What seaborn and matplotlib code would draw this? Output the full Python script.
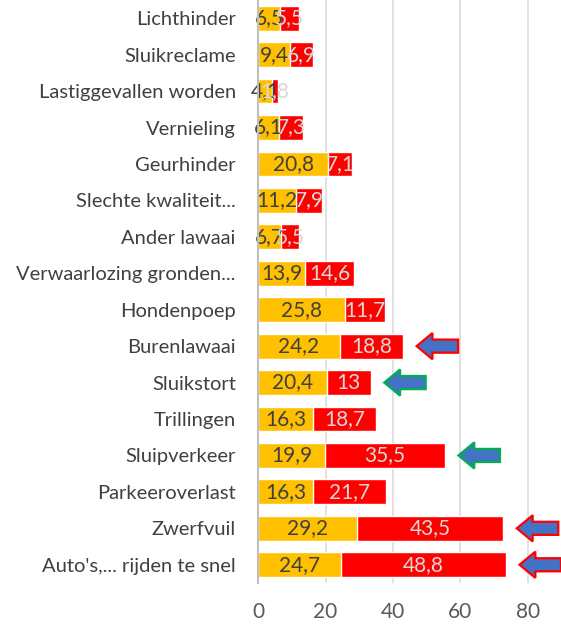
import matplotlib
matplotlib.use("Agg")
import matplotlib.pyplot as plt
import matplotlib.patches as mpatches
import pandas as pd
import seaborn as sns

# data (top to bottom)
categories = [
    "Lichthinder", "Sluikreclame", "Lastiggevallen worden", "Vernieling",
    "Geurhinder", "Slechte kwaliteit...", "Ander lawaai",
    "Verwaarlozing gronden...", "Hondenpoep", "Burenlawaai", "Sluikstort",
    "Trillingen", "Sluipverkeer", "Parkeeroverlast", "Zwerfvuil",
    "Auto's,... rijden te snel",
]
yellow_vals = [6.5, 9.4, 4.1, 6.1, 20.8, 11.2, 6.7, 13.9, 25.8, 24.2, 20.4,
               16.3, 19.9, 16.3, 29.2, 24.7]
red_vals = [5.5, 6.9, 1.8, 7.3, 7.1, 7.9, 5.5, 14.6, 11.7, 18.8, 13,
            18.7, 35.5, 21.7, 43.5, 48.8]
x_ticks = [0, 20, 40, 60, 80]

# highlighted rows get a block arrow, outline colour per row
arrow_rows = ["Burenlawaai", "Sluikstort", "Sluipverkeer", "Zwerfvuil",
              "Auto's,... rijden te snel"]
arrow_edges = ["#FF0000", "#00B050", "#00B050", "#FF0000", "#FF0000"]

YELLOW = "#FFC000"
RED = "#FF0000"
BLUE = "#4472C4"
DARK_TXT = "#404040"
LIGHT_TXT = "#D9D9D9"
FS = 15


def fmt(v):
    return f"{v:g}".replace(".", ",")


df = pd.DataFrame({"cat": categories, "yellow": yellow_vals, "red": red_vals})
df["total"] = df["yellow"] + df["red"]

sns.set_theme(style="white")
plt.rcParams["font.family"] = ["Lato", "DejaVu Sans"]

fig = plt.figure(figsize=(5.61, 6.28), dpi=100)
ax = fig.add_axes([0.46, 0.0717, 0.54, 0.9283])

sns.barplot(data=df, y="cat", x="total", color=RED, width=0.68,
            saturation=1, ax=ax, orient="h", zorder=2)
sns.barplot(data=df, y="cat", x="yellow", color=YELLOW, width=0.68,
            saturation=1, ax=ax, orient="h", zorder=3)

# value labels
ax.bar_label(ax.containers[1], labels=[fmt(v) for v in yellow_vals],
             label_type="center", color=DARK_TXT, fontsize=FS, zorder=5)
for i, row in df.iterrows():
    ax.text(row["yellow"] + row["red"] / 2, i, fmt(row["red"]),
            ha="center", va="center", color=LIGHT_TXT, fontsize=FS,
            zorder=6)

# arrows to the right of selected bars
for name, edge in zip(arrow_rows, arrow_edges):
    i = categories.index(name)
    tip = df.loc[i, "total"] + 4
    arr = mpatches.FancyArrow(tip + 12.3, i, -12.3, 0, width=0.36,
                              head_width=0.72, head_length=4.7,
                              length_includes_head=True, facecolor=BLUE,
                              edgecolor=edge, linewidth=1.6, zorder=7,
                              clip_on=False)
    ax.add_patch(arr)

ax.set_xlim(0, 89.8)
ax.set_xticks(x_ticks)
ax.set_xlabel("")
ax.set_ylabel("")
ax.grid(axis="x", color="#D9D9D9", linewidth=1.1, zorder=0)
ax.set_axisbelow(True)
for s in ["top", "right", "bottom"]:
    ax.spines[s].set_visible(False)
ax.spines["left"].set_color("#BFBFBF")
ax.spines["left"].set_linewidth(1.5)
ax.spines["left"].set_zorder(8)
ax.tick_params(axis="x", length=0, pad=14, labelsize=FS, labelcolor="#595959")
ax.tick_params(axis="y", length=0, pad=16, labelsize=14.5, labelcolor="#404040")

fig.savefig("out.png", dpi=100)
